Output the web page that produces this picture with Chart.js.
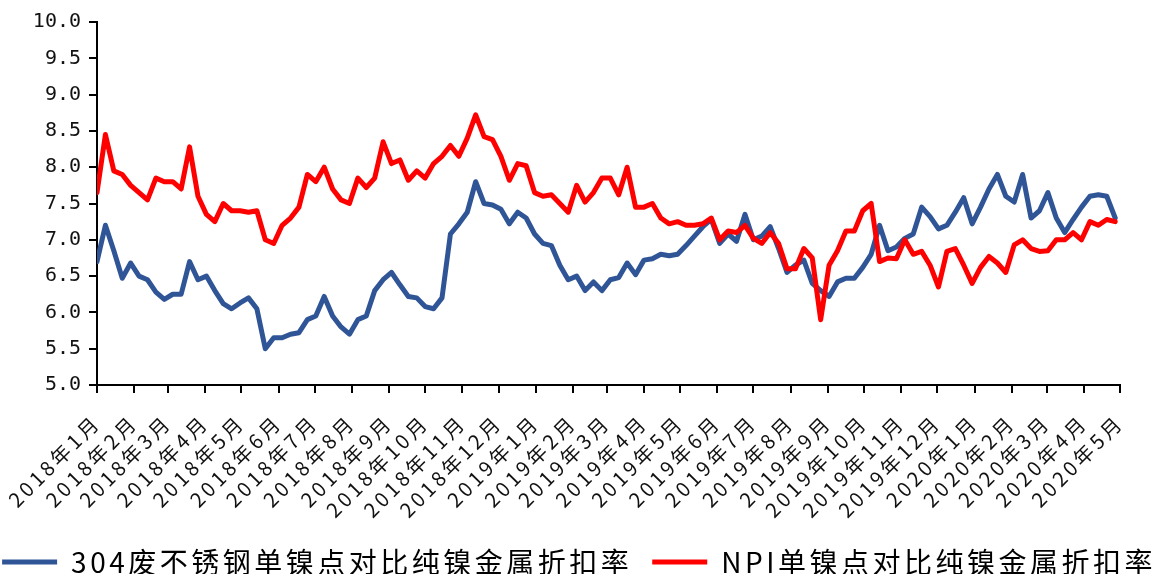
<!DOCTYPE html>
<html lang="zh-CN">
<head>
<meta charset="utf-8">
<title>单镍点对比纯镍金属折扣率</title>
<script src="https://cdn.jsdelivr.net/npm/chart.js@4.4.1/dist/chart.umd.min.js"></script>
<style>
  html, body { margin: 0; padding: 0; background: #fff; }
  #chart { display: block; }
</style>
</head>
<body>
<canvas id="chart" width="1158" height="574"></canvas>
<script>
// ---- Data (one reading per week, from 2018-01-01) ----
const tickLabels = [
  '2018年1月','2018年2月','2018年3月','2018年4月','2018年5月','2018年6月','2018年7月',
  '2018年8月','2018年9月','2018年10月','2018年11月','2018年12月',
  '2019年1月','2019年2月','2019年3月','2019年4月','2019年5月','2019年6月','2019年7月',
  '2019年8月','2019年9月','2019年10月','2019年11月','2019年12月',
  '2020年1月','2020年2月','2020年3月','2020年4月','2020年5月'
];
const stepDays = 7;

const scrapName = '304废不锈钢单镍点对比纯镍金属折扣率';
const scrapValues = [
  6.70, 7.20, 6.85, 6.47, 6.68, 6.50, 6.45, 6.28, 6.18, 6.25,
  6.25, 6.70, 6.45, 6.50, 6.30, 6.12, 6.05, 6.13, 6.20, 6.05,
  5.50, 5.65, 5.65, 5.70, 5.72, 5.90, 5.95, 6.22, 5.95, 5.80,
  5.70, 5.90, 5.95, 6.30, 6.45, 6.55, 6.38, 6.22, 6.20, 6.08,
  6.05, 6.20, 7.08, 7.22, 7.38, 7.80, 7.50, 7.48, 7.42, 7.22,
  7.38, 7.30, 7.08, 6.95, 6.92, 6.65, 6.45, 6.50, 6.30, 6.42,
  6.30, 6.45, 6.48, 6.68, 6.52, 6.72, 6.74, 6.80, 6.78, 6.80,
  6.92, 7.05, 7.18, 7.28, 6.95, 7.08, 6.98, 7.35, 7.00, 7.05,
  7.18, 6.88, 6.55, 6.65, 6.72, 6.40, 6.30, 6.22, 6.42, 6.47,
  6.47, 6.62, 6.80, 7.20, 6.85, 6.90, 7.02, 7.08, 7.45, 7.32,
  7.15, 7.20, 7.38, 7.58, 7.22, 7.45, 7.70, 7.90, 7.60, 7.52,
  7.90, 7.30, 7.40, 7.65, 7.30, 7.10, 7.28, 7.45, 7.60, 7.62,
  7.60, 7.30
];

const npiName = 'NPI单镍点对比纯镍金属折扣率';
const npiValues = [
  7.65, 8.45, 7.95, 7.90, 7.75, 7.65, 7.55, 7.85, 7.80, 7.80,
  7.70, 8.28, 7.60, 7.35, 7.25, 7.50, 7.40, 7.40, 7.38, 7.40,
  7.00, 6.95, 7.20, 7.30, 7.45, 7.90, 7.80, 8.00, 7.70, 7.55,
  7.50, 7.85, 7.72, 7.85, 8.35, 8.05, 8.10, 7.82, 7.95, 7.85,
  8.05, 8.15, 8.30, 8.15, 8.40, 8.72, 8.42, 8.38, 8.15, 7.82,
  8.05, 8.02, 7.65, 7.60, 7.62, 7.50, 7.38, 7.75, 7.52, 7.65,
  7.85, 7.85, 7.62, 8.00, 7.45, 7.45, 7.50, 7.30, 7.22, 7.25,
  7.20, 7.20, 7.22, 7.30, 7.00, 7.12, 7.10, 7.20, 7.02, 6.95,
  7.10, 6.95, 6.60, 6.60, 6.88, 6.75, 5.90, 6.65, 6.85, 7.12,
  7.12, 7.40, 7.50, 6.70, 6.75, 6.74, 7.00, 6.80, 6.84, 6.65,
  6.35, 6.84, 6.88, 6.65, 6.40, 6.62, 6.77, 6.68, 6.55, 6.93,
  7.00, 6.88, 6.84, 6.85, 7.00, 7.00, 7.10, 7.00, 7.25, 7.20,
  7.28, 7.25
];

const yMin = 5, yMax = 10, yStep = 0.5;

// ---- Helpers ----
const dayOf = s => {
  const m = s.match(/(\d+)年(\d+)月/);
  return (Date.UTC(+m[1], +m[2] - 1, 1) - Date.UTC(2018, 0, 1)) / 864e5;
};
const tickDays = tickLabels.map(dayOf);
const toPoints = arr => arr.map((y, i) => ({ x: i * stepDays, y }));

// wrap a box method so its text is measured / drawn with letter spacing
const spaced = (box, method, spacing) => {
  const orig = box[method];
  if (!orig || orig._spaced) return;
  const wrapped = function (...args) {
    const prev = this.ctx.letterSpacing;
    this.ctx.letterSpacing = spacing;
    try { return orig.apply(this, args); } finally { this.ctx.letterSpacing = prev; }
  };
  wrapped._spaced = true;
  box[method] = wrapped;
};

const spacingPlugin = {
  id: 'spacing',
  beforeLayout(chart) {
    const lg = chart.legend;
    if (lg && !lg._oneRow) {
      // keep both legend items on one row (fit and draw both check the width)
      const fit = lg.fit, draw = lg.draw;
      lg.fit = function () {
        const mw = this.maxWidth;
        this.maxWidth = mw + 400;
        fit.call(this);
        this.maxWidth = mw;
        this.width = mw;
      };
      lg.draw = function (...args) {
        const { left, right } = this;
        this.left = left - 400;
        this.right = right + 400;
        try { return draw.apply(this, args); } finally { this.left = left; this.right = right; }
      };
      lg._oneRow = true;
    }
    spaced(lg, 'fit', '3.5px');
    spaced(lg, 'draw', '3.5px');
    spaced(chart.scales.x, 'update', '3.5px');
    spaced(chart.scales.x, 'draw', '3.5px');
  }
};

const axisGrid = { drawOnChartArea: false, tickLength: 8, color: '#000', lineWidth: 2 };
const axisBorder = { color: '#000', width: 2 };

new Chart(document.getElementById('chart'), {
  type: 'line',
  data: {
    datasets: [
      {
        label: scrapName, data: toPoints(scrapValues), order: 1,
        borderColor: '#2F5597', backgroundColor: '#2F5597', borderWidth: 5
      },
      {
        label: npiName, data: toPoints(npiValues), order: 0,
        borderColor: '#FF0000', backgroundColor: '#FF0000', borderWidth: 5
      }
    ]
  },
  options: {
    responsive: false,
    animation: false,
    layout: { padding: { top: 22, right: 0, bottom: -12, left: 0 } },
    elements: {
      line: { tension: 0, borderJoinStyle: 'round', borderCapStyle: 'round' },
      point: { radius: 0 }
    },
    plugins: {
      tooltip: { enabled: false },
      legend: {
        position: 'bottom',
        labels: {
          usePointStyle: true, pointStyle: 'line', pointStyleWidth: 55,
          padding: 20, color: '#000',
          font: { family: 'Noto Sans CJK SC', size: 28 },
          sort: (a, b) => a.datasetIndex - b.datasetIndex
        }
      }
    },
    scales: {
      x: {
        type: 'linear',
        min: tickDays[0], max: tickDays[tickDays.length - 1],
        afterBuildTicks: s => { s.ticks = tickDays.map(value => ({ value })); },
        afterFit: s => { s.height = 143; s.paddingLeft = 0; s.paddingRight = 0; },
        ticks: {
          autoSkip: false, minRotation: 45, maxRotation: 45, padding: 17,
          color: '#111', font: { family: 'Noto Sans CJK SC', size: 20 },
          callback: (v, i) => tickLabels[i]
        },
        grid: axisGrid, border: axisBorder
      },
      y: {
        min: yMin, max: yMax,
        afterFit: s => { s.width = 97; },
        ticks: {
          stepSize: yStep, padding: 8, color: '#111',
          font: { family: 'DejaVu Sans Mono', size: 20 },
          callback: v => v.toFixed(1)
        },
        grid: axisGrid, border: axisBorder
      },
      // empty right-hand gutter
      yRight: {
        position: 'right',
        afterFit: s => { s.width = 38; },
        ticks: { display: false },
        grid: { display: false },
        border: { display: false }
      }
    }
  },
  plugins: [spacingPlugin]
});
</script>
</body>
</html>
